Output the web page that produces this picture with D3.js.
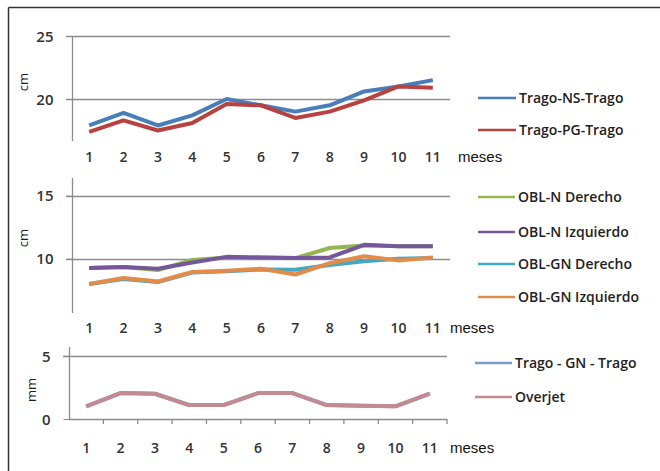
<!DOCTYPE html>
<html><head><meta charset="utf-8">
<script src="https://cdn.jsdelivr.net/npm/d3@7"></script>
<style>
body{margin:0;background:#fff;}
svg{display:block;font-family:"Open Sans",Lato,sans-serif;}
</style></head><body>
<svg id="c" width="660" height="471"></svg>
<script>
const months = ["1","2","3","4","5","6","7","8","9","10","11"];

// Panel 1 (cm)
const tragoNS = [17.9,18.9,17.9,18.7,20.0,19.5,19.0,19.5,20.6,21.0,21.5];
const tragoPG = [17.4,18.3,17.5,18.1,19.6,19.5,18.5,19.0,19.9,21.0,20.9];
const ticks1 = [20,25];

// Panel 2 (cm)
const oblNDer = [9.27,9.35,9.1,9.9,10.1,10.1,10.05,10.85,11.05,11.0,11.0];
const oblNIzq = [9.27,9.35,9.2,9.7,10.15,10.1,10.05,10.1,11.1,11.0,11.0];
const oblGNDer = [8.0,8.4,8.15,8.9,9.0,9.15,9.13,9.5,9.8,10.0,10.05];
const oblGNIzq = [8.0,8.47,8.2,8.95,9.05,9.2,8.75,9.65,10.2,9.87,10.1];
const ticks2 = [10,15];

// Panel 3 (mm)
const tragoGN = [1.0,2.05,2.0,1.1,1.1,2.05,2.05,1.1,1.05,1.0,2.0];
const overjet = [1.0,2.05,2.0,1.1,1.1,2.05,2.05,1.1,1.05,1.0,2.0];
const ticks3 = [0,5];

const svg = d3.select("#c");
svg.append("line").attr("x1",8.5).attr("x2",660).attr("y1",7.5).attr("y2",7.5).attr("stroke","#333").attr("stroke-width",1.5);
svg.append("line").attr("x1",8.5).attr("x2",8.5).attr("y1",7.5).attr("y2",471).attr("stroke","#333").attr("stroke-width",1.5);

const panels = [
  {x0:72, x1:450, yTop:36, yBot:141, domain:[16.67,25], ticks:ticks1, unit:"cm", unitX:23, unitY:82, labelY:157, mesesX:458, zeroAxis:false,
   series:[{name:"Trago-NS-Trago",values:tragoNS,color:"#4a7ebb"},{name:"Trago-PG-Trago",values:tragoPG,color:"#b8423f"}],
   legX:478, legTextX:519, legY:[98,130]},
  {x0:72, x1:450, yTop:178, yBot:313, domain:[5.7,16.4], ticks:ticks2, unit:"cm", unitX:23, unitY:238, labelY:328, mesesX:450, zeroAxis:false,
   series:[{name:"OBL-N Derecho",values:oblNDer,color:"#93b653"},{name:"OBL-N Izquierdo",values:oblNIzq,color:"#74589b"},
           {name:"OBL-GN Derecho",values:oblGNDer,color:"#43a8c4"},{name:"OBL-GN Izquierdo",values:oblGNIzq,color:"#e38c4a"}],
   legX:478, legTextX:518, legY:[197,232,264,297]},
  {x0:69, x1:447, yTop:347, yBot:419, domain:[0,5.7], ticks:ticks3, unit:"mm", unitX:31, unitY:390, labelY:448, mesesX:450, zeroAxis:true,
   series:[{name:"Trago - GN - Trago",values:tragoGN,color:"#7b9ccb"},{name:"Overjet",values:overjet,color:"#c48a91"}],
   legX:475, legTextX:515, legY:[363,397]}
];

const FONT = 14;
panels.forEach(p=>{
  const g = svg.append("g");
  const x = d3.scaleBand().domain(months).range([p.x0,p.x1]);
  const y = d3.scaleLinear().domain(p.domain).range([p.yBot,p.yTop]);
  p.ticks.forEach(t=>{
    if(p.zeroAxis && t===0) return;
    g.append("line").attr("x1",p.x0-6).attr("x2",p.x1).attr("y1",Math.round(y(t))+0.5).attr("y2",Math.round(y(t))+0.5)
      .attr("stroke","#8c8c8c").attr("stroke-width",1.3);
  });
  const ya = d3.axisLeft(y).tickValues(p.ticks).tickSize(6).tickPadding(13).tickFormat(d3.format("d"));
  const yg = g.append("g").attr("transform",`translate(${p.x0+0.5},0)`).call(ya);
  yg.select(".domain").attr("stroke","#8c8c8c").attr("stroke-width",1.3).attr("d",`M0,${p.yTop}V${p.yBot}`);
  yg.selectAll(".tick line").attr("stroke","#8c8c8c");
  yg.selectAll("text").attr("font-size",FONT+1).attr("font-weight",600).attr("fill","#333")
    .attr("font-family","'Open Sans',sans-serif").attr("dy","0.35em");
  if(p.zeroAxis){
    const xa = d3.axisBottom(x).tickSize(0).tickFormat("");
    const xg = g.append("g").attr("transform",`translate(0,${p.yBot+0.5})`).call(xa);
    xg.select(".domain").attr("stroke","#8c8c8c").attr("stroke-width",1.3).attr("d",`M${p.x0},0H${p.x1}`);
    months.forEach(m=>{
      const b = x(m)+x.bandwidth();
      g.append("line").attr("x1",b).attr("x2",b).attr("y1",p.yBot).attr("y2",p.yBot+5).attr("stroke","#8c8c8c").attr("stroke-width",1.3);
    });
  }
  g.selectAll(".xl").data(months).join("text").attr("class","xl")
    .attr("x",d=>x(d)+x.bandwidth()/2).attr("y",p.labelY).attr("dy","0.35em").attr("text-anchor","middle")
    .attr("font-size",FONT).attr("font-weight",600).attr("fill","#333").text(d=>d);
  g.append("text").attr("x",p.mesesX).attr("y",p.labelY).attr("dy","0.35em").attr("font-size",15)
    .attr("font-family","Arial, 'Liberation Sans', sans-serif").attr("fill","#111").text("meses");
  g.append("text").attr("transform",`translate(${p.unitX},${p.unitY}) rotate(-90)`).attr("text-anchor","middle")
    .attr("dy","0.35em").attr("font-size",13).attr("fill","#222").text(p.unit);
  const line = d3.line().x((d,i)=>x(months[i])+x.bandwidth()/2).y(d=>y(d));
  p.series.forEach(s=>{
    g.append("path").datum(s.values).attr("d",line).attr("fill","none").attr("stroke",s.color)
      .attr("stroke-width",4).attr("stroke-linejoin","round");
  });
  p.series.forEach((s,i)=>{
    g.append("line").attr("x1",p.legX).attr("x2",p.legTextX-3).attr("y1",p.legY[i]).attr("y2",p.legY[i])
      .attr("stroke",s.color).attr("stroke-width",2.5);
    g.append("text").attr("x",p.legTextX).attr("y",p.legY[i]).attr("dy","0.35em").attr("font-size",FONT)
      .attr("font-weight",600).attr("fill","#222").text(s.name);
  });
});
</script>
</body></html>
